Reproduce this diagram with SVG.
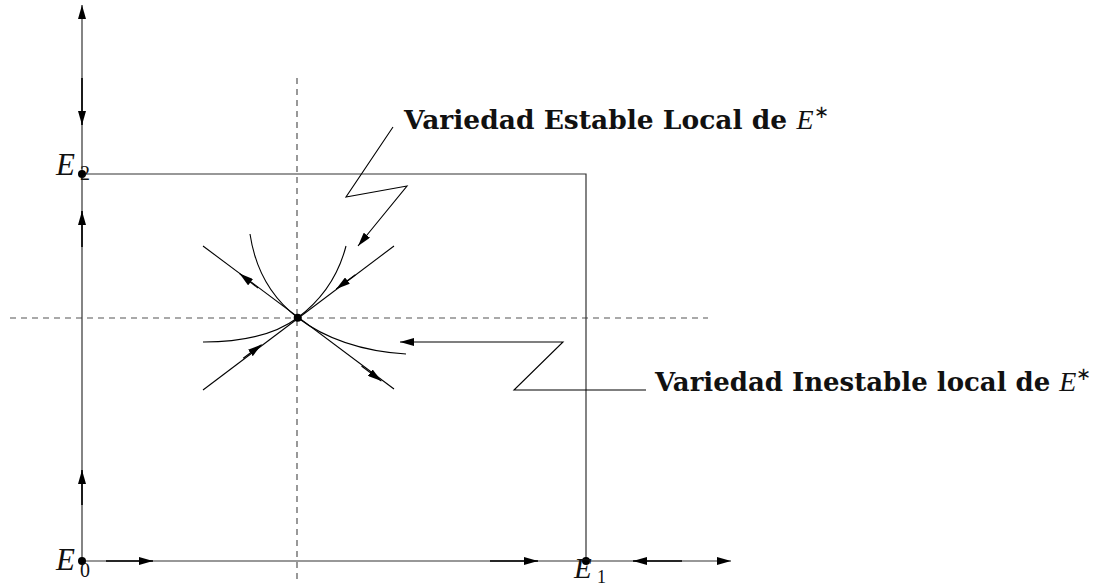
<svg xmlns="http://www.w3.org/2000/svg" width="1099" height="585" viewBox="0 0 1099 585">
<style>
.ax{stroke:#333;stroke-width:1.2;fill:none}
.th{stroke:#000;stroke-width:1.6;fill:none}
.cv{stroke:#000;stroke-width:1.1;fill:none}
.ds{stroke:#555;stroke-width:1.2;stroke-dasharray:6 5;fill:none}
.lbl{font-family:"Liberation Serif",serif;font-style:italic;fill:#111}
.sub{font-family:"Liberation Serif",serif;fill:#111}
.ttl{font-family:"DejaVu Serif",serif;font-weight:bold;fill:#111}
</style>
<defs>
<marker id="ah" markerUnits="userSpaceOnUse" markerWidth="15" markerHeight="8" refX="14" refY="4" orient="auto">
<path d="M0,0 L14,4 L0,8 z" fill="#000"/>
</marker>
</defs>
<rect width="1099" height="585" fill="#fff"/>
<g id="guides">
<path class="ds" d="M10,318 H708"/>
<path class="ds" d="M297,78 V582"/>
</g>
<g id="connectors">
<path class="ax" d="M82,561 V5" marker-end="url(#ah)"/>
<path class="ax" d="M82,561 H731" marker-end="url(#ah)"/>
<path class="ax" d="M82,174 H586 V561"/>
<path class="th" d="M82,78 V125" marker-end="url(#ah)"/>
<path class="th" d="M82,247 V211" marker-end="url(#ah)"/>
<path class="th" d="M82,505 V470" marker-end="url(#ah)"/>
<path class="th" d="M106,561 H153" marker-end="url(#ah)"/>
<path class="th" d="M490,561 H538" marker-end="url(#ah)"/>
<path class="th" d="M682,561 H633" marker-end="url(#ah)"/>
<path class="cv" d="M203,246 L394,389"/>
<path class="cv" d="M203,390 L394,246"/>
<path class="cv" d="M258,288 L239.5,273.6" marker-end="url(#ah)"/>
<path class="cv" d="M361.5,366 L381.4,381.1" marker-end="url(#ah)"/>
<path class="cv" d="M243.2,358.3 L261.6,344.6" marker-end="url(#ah)"/>
<path class="cv" d="M355.4,274.7 L336.2,289" marker-end="url(#ah)"/>
<path class="cv" d="M297.7,317.7 Q258,287.5 250,234"/>
<path class="cv" d="M297.7,317.7 Q334.6,290.2 346,246"/>
<path class="cv" d="M297.7,317.7 Q264.8,342.2 203,342"/>
<path class="cv" d="M297.7,317.7 Q340,349.7 406,354"/>
<path class="cv" d="M393,127 L346,197 L407,186 L358,246" marker-end="url(#ah)"/>
<path class="cv" d="M646,390 H514 L563,342 H400" marker-end="url(#ah)"/>
</g>
<g id="E2">
<circle cx="82" cy="174" r="4" fill="#000"/>
<text class="lbl" x="56" y="175" font-size="31">E</text>
<text class="sub" x="80" y="180" font-size="20">2</text>
</g>
<g id="E0">
<circle cx="82" cy="561" r="4" fill="#000"/>
<text class="lbl" x="56" y="570" font-size="31">E</text>
<text class="sub" x="80" y="577" font-size="20">0</text>
</g>
<g id="E1">
<circle cx="586" cy="561" r="4" fill="#000"/>
<text class="lbl" x="574" y="578" font-size="29">E</text>
<text class="sub" x="597" y="583" font-size="18">1</text>
</g>
<g id="Estar">
<circle cx="297.7" cy="317.7" r="4" fill="#000"/>
</g>
<g id="label-stable">
<text class="ttl" x="404" y="129" font-size="26.5">Variedad Estable Local de <tspan class="lbl" font-weight="normal" font-size="28">E</tspan><tspan class="sub" font-weight="normal" font-size="18" dy="-11">∗</tspan></text>
</g>
<g id="label-unstable">
<text class="ttl" x="655" y="391" font-size="26">Variedad Inestable local de <tspan class="lbl" font-weight="normal" font-size="28">E</tspan><tspan class="sub" font-weight="normal" font-size="18" dy="-11">∗</tspan></text>
</g>
</svg>
